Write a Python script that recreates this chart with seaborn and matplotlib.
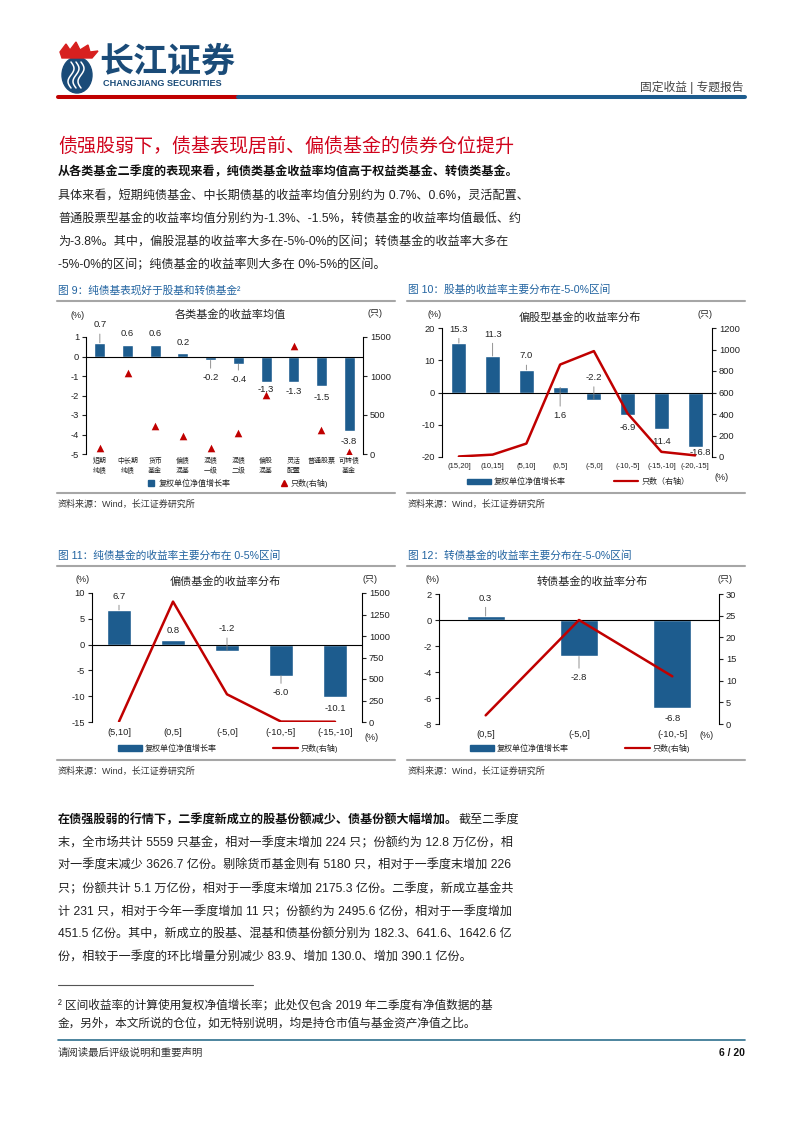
import numpy as np
import matplotlib
matplotlib.use('Agg')
import matplotlib.pyplot as plt
import seaborn as sns
from matplotlib.lines import Line2D
from matplotlib.patches import Ellipse, Polygon, Rectangle

# ---- data ----
fund_types = ['短期\n纯债', '中长期\n纯债', '货币\n基金', '偏债\n混基', '混债\n一级',
              '混债\n二级', '偏股\n混基', '灵活\n配置', '普通股票', '可转债\n基金']
fund_return = [0.7, 0.6, 0.6, 0.2, -0.2, -0.4, -1.3, -1.3, -1.5, -3.8]
fund_count = [75, 1040, 360, 230, 80, 275, 755, 1380, 305, 30]

equity_bins = ['(15,20]', '(10,15]', '(5,10]', '(0,5]', '(-5,0]', '(-10,-5]', '(-15,-10]', '(-20,-15]']
equity_return = [15.3, 11.3, 7.0, 1.6, -2.2, -6.9, -11.4, -16.8]
equity_count = [5, 22, 125, 860, 985, 405, 48, 15]

bond_bins = ['(5,10]', '(0,5]', '(-5,0]', '(-10,-5]', '(-15,-10]']
bond_return = [6.7, 0.8, -1.2, -6.0, -10.1]
bond_count = [5, 1400, 322, 5, 3]

cb_bins = ['(0,5]', '(-5,0]', '(-10,-5]']
cb_return = [0.3, -2.8, -6.8]
cb_count = [2, 24, 11]

BLUE = '#1D5C8E'
RED = '#C00000'
NAVY = '#1A4B78'
CAP = '#2163A0'
GRAY = '#A6A6A6'
INK = '#222222'

sns.set_theme(style='ticks')
plt.rcParams['font.family'] = ['Liberation Sans', 'Noto Sans CJK SC']
plt.rcParams['axes.unicode_minus'] = False

W, H = 802, 1133
fig = plt.figure(figsize=(W / 100, H / 100), dpi=100)


def fx(x):
    return x / W


def fy(y):
    return 1 - y / H


def box(l, t, r, b):
    return [l / W, 1 - b / H, (r - l) / W, (b - t) / H]


def txt(x, y, s, size=8.7, color=INK, weight='normal', ha='left', **kw):
    return fig.text(fx(x), fy(y), s, fontsize=size, color=color, fontweight=weight,
                    ha=ha, va='center', **kw)


def hline(x0, x1, y, color=GRAY, lw=1.5):
    fig.add_artist(Line2D([fx(x0), fx(x1)], [fy(y), fy(y)], color=color, lw=lw,
                          transform=fig.transFigure))


# ---- header ----
fig.add_artist(Ellipse((fx(77), fy(75)), 30 / W, 36 / H, color=NAVY, transform=fig.transFigure))
for k, xo in enumerate([71, 76, 81]):
    yy = np.linspace(62, 88, 30)
    xx = xo + 3 * np.sin((yy - 62) / 26 * 2 * np.pi)
    fig.add_artist(Line2D(fx(xx), fy(yy), color='white', lw=1.1, transform=fig.transFigure))
flame = [(60, 52), (66, 44), (70, 50), (76, 42), (80, 50), (88, 45), (90, 52), (98, 51), (92, 58), (62, 58)]
fig.add_artist(Polygon([(fx(a), fy(b)) for a, b in flame], closed=True, color='#D7201F',
                       transform=fig.transFigure))
txt(99, 63, '长江证券', size=24.5, color=NAVY, weight='heavy')
txt(103, 83, 'CHANGJIANG SECURITIES', size=6.6, color=NAVY, weight='bold')
txt(743, 87, '固定收益 | 专题报告', size=8.5, color='#444444', ha='right')
hline(58, 238, 97, color=RED, lw=2.9)
hline(238, 745, 97, color=BLUE, lw=2.9)

# ---- section text ----
txt(58, 147, '债强股弱下，债基表现居前、偏债基金的债券仓位提升', size=13.7, color='#D0021B')
txt(58, 172, '从各类基金二季度的表现来看，纯债类基金收益率均值高于权益类基金、转债类基金。',
    weight='bold', color='#111111')
top_lines = ['具体来看，短期纯债基金、中长期债基的收益率均值分别约为 0.7%、0.6%，灵活配置、',
             '普通股票型基金的收益率均值分别约为-1.3%、-1.5%，转债基金的收益率均值最低、约',
             '为-3.8%。其中，偏股混基的收益率大多在-5%-0%的区间；转债基金的收益率大多在',
             '-5%-0%的区间；纯债基金的收益率则大多在 0%-5%的区间。']
for i, s in enumerate(top_lines):
    txt(58, 196 + 23 * i, s)

# ---- chart captions and rules ----
txt(58, 290, '图 9：纯债基表现好于股基和转债基金²', size=7.7, color=CAP)
txt(408, 290, '图 10：股基的收益率主要分布在-5-0%区间', size=7.7, color=CAP)
txt(58, 556, '图 11：纯债基金的收益率主要分布在 0-5%区间', size=7.7, color=CAP)
txt(408, 556, '图 12：转债基金的收益率主要分布在-5-0%区间', size=7.7, color=CAP)
for y in [301, 493]:
    hline(57, 395, y)
    hline(407, 745, y)
for y in [566, 760]:
    hline(57, 395, y)
    hline(407, 745, y)
for x, y in [(58, 504), (408, 504), (58, 771), (408, 771)]:
    txt(x, y, '资料来源：Wind，长江证券研究所', size=6.5, color='#333333')


def panel(px, cats, rets, counts, ylim, yticks, ylim2, yticks2, offsets, bar_w, cat_size,
          kind='line', cat_pad=4, cat_ls=1.2):
    l, t, r, b = px
    ax = fig.add_axes(box(l, t, r, b))
    sns.barplot(x=cats, y=rets, color=BLUE, saturation=1, width=bar_w, ax=ax)
    ax2 = ax.twinx()
    xs = np.arange(len(cats))
    if kind == 'line':
        sns.lineplot(x=xs, y=counts, color=RED, linewidth=1.8, ax=ax2)
    else:
        sns.scatterplot(x=xs, y=counts, color=RED, marker='^', s=30, linewidth=0, ax=ax2)
    ax.set_xlim(-0.5, len(cats) - 0.5)
    ax.set_ylim(*ylim)
    ax.set_yticks(yticks)
    ax2.set_ylim(*ylim2)
    ax2.set_yticks(yticks2)
    ax.axhline(0, color='black', lw=0.8, zorder=3)
    for s in ['top', 'bottom', 'right']:
        ax.spines[s].set_visible(False)
    for s in ['top', 'bottom', 'left']:
        ax2.spines[s].set_visible(False)
    ax.spines['left'].set_linewidth(0.8)
    ax.spines['left'].set_color('black')
    ax2.spines['right'].set_linewidth(0.8)
    ax2.spines['right'].set_color('black')
    ax.tick_params(axis='y', length=3, width=0.8, labelsize=6.7, pad=2, colors=INK)
    ax2.tick_params(axis='y', length=3, width=0.8, labelsize=6.7, pad=2, colors=INK)
    ax.set_xticks(xs)
    ax.set_xticklabels(cats)
    ax.tick_params(axis='x', length=0, labelsize=cat_size, pad=cat_pad, colors=INK)
    for lab in ax.get_xticklabels():
        lab.set_linespacing(cat_ls)
    ax.set_xlabel('')
    ax.set_ylabel('')
    ax2.set_ylabel('')
    for i, (v, (dx, dy)) in enumerate(zip(rets, offsets)):
        arrow = dict(arrowstyle='-', color='#808080', lw=0.6, shrinkA=1, shrinkB=0) if abs(dy) >= 14 else None
        ax.annotate(f'{v:.1f}', xy=(i, v), xytext=(dx, dy), textcoords='offset pixels',
                    ha='center', va='center', fontsize=6.8, color=INK,
                    arrowprops=arrow, annotation_clip=False, zorder=5)
    return ax, ax2


def legend(ax, handles, labels, cx, cy, colsp, hl):
    ax.legend(handles, labels, ncol=2, loc='center', bbox_to_anchor=(fx(cx), fy(cy)),
              bbox_transform=fig.transFigure, frameon=False, fontsize=5.8,
              handlelength=hl, handletextpad=0.35, columnspacing=colsp, borderpad=0,
              labelcolor=INK)


# ---- figure 9 ----
ax, ax2 = panel((86, 337, 363, 454), fund_types, fund_return, fund_count,
                (-5, 1), np.arange(-5, 2, 1), (0, 1500), [0, 500, 1000, 1500],
                [(0, 18), (0, 11), (0, 11), (0, 10), (0, -17), (0, -15), (0, -8), (0, -10), (0, -12), (0, -11)],
                0.4, 5.0, kind='scatter', cat_pad=3, cat_ls=1.55)
legend(ax, [Line2D([], [], marker='s', ls='none', color=BLUE, markersize=4),
            Line2D([], [], marker='^', ls='none', color=RED, markersize=4)],
       ['复权单位净值增长率', '只数(右轴)'], 238, 483, 6.2, 1.0)
txt(230, 315, '各类基金的收益率均值', size=8, color=INK, ha='center')
txt(78, 316, '(%)', size=6.5, ha='center')
txt(375, 314, '(只)', size=6.5, ha='center')

# ---- figure 10 ----
ax, ax2 = panel((442, 328, 712, 457), equity_bins, equity_return, equity_count,
                (-20, 20), [-20, -10, 0, 10, 20], (0, 1200), np.arange(0, 1201, 200),
                [(0, 14), (0, 22), (0, 14), (0, -28), (0, 22), (0, -13), (0, -12), (5, -6)],
                0.44, 5.5)
legend(ax, [Rectangle((0, 0), 1, 1, color=BLUE), Line2D([], [], color=RED, lw=1.6)],
       ['复权单位净值增长率', '只数（右轴）'], 578, 482, 6.0, 3.0)
txt(580, 317, '偏股型基金的收益率分布', size=8, color=INK, ha='center')
txt(435, 315, '(%)', size=6.5, ha='center')
txt(705, 315, '(只)', size=6.5, ha='center')
txt(722, 478, '(%)', size=6.5, ha='center')

# ---- figure 11 ----
ax, ax2 = panel((92, 593, 362, 722), bond_bins, bond_return, bond_count,
                (-15, 10), np.arange(-15, 11, 5), (0, 1500), np.arange(0, 1501, 250),
                [(0, 14), (0, 10), (0, 22), (0, -17), (0, -12)],
                0.43, 6.7)
legend(ax, [Rectangle((0, 0), 1, 1, color=BLUE), Line2D([], [], color=RED, lw=1.6)],
       ['复权单位净值增长率', '只数(右轴)'], 228, 748, 7.0, 3.0)
txt(225, 581, '偏债基金的收益率分布', size=8, color=INK, ha='center')
txt(83, 580, '(%)', size=6.5, ha='center')
txt(370, 580, '(只)', size=6.5, ha='center')
txt(372, 738, '(%)', size=6.5, ha='center')

# ---- figure 12 ----
ax, ax2 = panel((439, 594, 719, 724), cb_bins, cb_return, cb_count,
                (-8, 2), np.arange(-8, 3, 2), (0, 30), np.arange(0, 31, 5),
                [(0, 18), (0, -21), (0, -10)],
                0.41, 6.7)
legend(ax, [Rectangle((0, 0), 1, 1, color=BLUE), Line2D([], [], color=RED, lw=1.6)],
       ['复权单位净值增长率', '只数(右轴)'], 580, 748, 7.0, 3.0)
txt(592, 581, '转债基金的收益率分布', size=8, color=INK, ha='center')
txt(433, 580, '(%)', size=6.5, ha='center')
txt(725, 580, '(只)', size=6.5, ha='center')
txt(707, 735, '(%)', size=6.5, ha='center')

# ---- lower paragraph ----
bold = txt(58, 820, '在债强股弱的行情下，二季度新成立的股基份额减少、债基份额大幅增加。',
           weight='bold', color='#111111')
fig.canvas.draw()
ext = bold.get_window_extent(renderer=fig.canvas.get_renderer())
txt(ext.x1, 820, '截至二季度')
low_lines = ['末，全市场共计 5559 只基金，相对一季度末增加 224 只；份额约为 12.8 万亿份，相',
             '对一季度末减少 3626.7 亿份。剔除货币基金则有 5180 只，相对于一季度末增加 226',
             '只；份额共计 5.1 万亿份，相对于一季度末增加 2175.3 亿份。二季度，新成立基金共',
             '计 231 只，相对于今年一季度增加 11 只；份额约为 2495.6 亿份，相对于一季度增加',
             '451.5 亿份。其中，新成立的股基、混基和债基份额分别为 182.3、641.6、1642.6 亿',
             '份，相较于一季度的环比增量分别减少 83.9、增加 130.0、增加 390.1 亿份。']
for i, s in enumerate(low_lines):
    txt(58, 843 + 23 * i, s)

# ---- footnote and footer ----
hline(58, 253, 985, color='#555555', lw=0.8)
txt(58, 1005, '² 区间收益率的计算使用复权净值增长率；此处仅包含 2019 年二季度有净值数据的基', size=8.4)
txt(58, 1024, '金，另外，本文所说的仓位，如无特别说明，均是持仓市值与基金资产净值之比。', size=8.4)
hline(58, 745, 1040, color='#2E6F8E', lw=1.2)
txt(58, 1053, '请阅读最后评级说明和重要声明', size=7.5, color='#333333')
txt(745, 1053, '6 / 20', size=7.5, color='#111111', weight='bold', ha='right')

fig.savefig('out.png', dpi=100)
